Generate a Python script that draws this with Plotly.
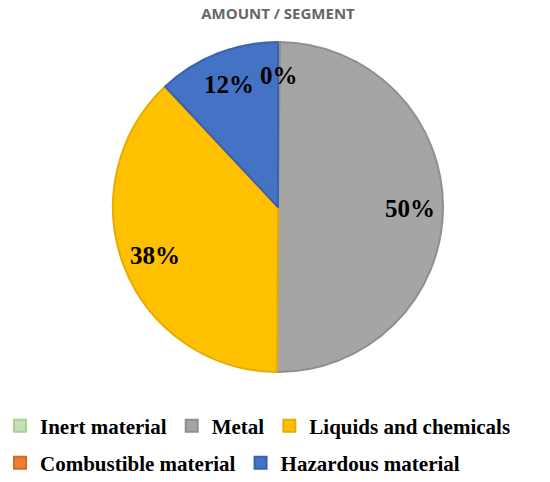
import math
import plotly.graph_objects as go

# data
segments = ["Inert material", "Metal", "Liquids and chemicals", "Combustible material", "Hazardous material"]
amounts = [0.2, 50, 38, 0, 12]
colors = ["#C5E0B4", "#A5A5A5", "#FFC000", "#ED7D31", "#4472C4"]
edges = ["#A9D18E", "#8F8F8F", "#E6AC00", "#D46A20", "#3A63AD"]
legend_rows = [1, 1, 1, 2, 2]

W, H = 550, 482
cx, cy, r = 278, 207, 165

label_font = dict(family="Liberation Serif", size=25, color="black", weight="bold")

fig = go.Figure()
fig.add_trace(go.Pie(
    labels=segments, values=amounts,
    sort=False, direction="clockwise", rotation=0,
    marker=dict(colors=colors, line=dict(color=edges, width=2)),
    textinfo="none", hoverinfo="label+percent", showlegend=False,
    domain=dict(x=[(cx - r) / W, (cx + r) / W], y=[1 - (cy + r) / H, 1 - (cy - r) / H]),
))

# Excel-like percentage labels, placed at 80% of the radius on each slice's mid angle
total = sum(amounts)
start = 0.0
for seg, a in zip(segments, amounts):
    if a <= 0:
        continue
    frac = a / total
    mid = (start + frac / 2) * 2 * math.pi
    start += frac
    px_ = cx + 0.80 * r * math.sin(mid)
    py_ = cy - 0.80 * r * math.cos(mid)
    fig.add_annotation(x=px_ / W, y=1 - py_ / H, xref="paper", yref="paper",
                       xanchor="center", yanchor="middle",
                       text=f"{round(frac * 100)}%", showarrow=False, font=label_font)

# legend entries (two rows that flow like the original)
for seg, c, e, row in zip(segments, colors, edges, legend_rows):
    fig.add_trace(go.Scatter(
        x=[None], y=[None], mode="markers", name=seg,
        marker=dict(symbol="square", size=16, color=c, line=dict(color=e, width=1)),
        legend="legend" if row == 1 else "legend2",
    ))

leg = dict(orientation="h", x=0, xanchor="left", yanchor="middle",
           font=dict(family="Liberation Serif", size=21, color="black", weight="bold"),
           itemsizing="constant", traceorder="normal", bgcolor="rgba(0,0,0,0)")

fig.update_layout(
    width=W, height=H,
    margin=dict(l=0, r=0, t=0, b=0, autoexpand=False),
    paper_bgcolor="white", plot_bgcolor="white",
    xaxis=dict(visible=False), yaxis=dict(visible=False),
    title=dict(text="AMOUNT / SEGMENT", x=cx / W, xanchor="center", y=1 - 14 / H, yanchor="middle",
               font=dict(family="Open Sans", size=15, color="#666666", weight="bold")),
    legend=dict(leg, y=1 - 426 / H),
    legend2=dict(leg, y=1 - 463 / H),
)

fig.write_html("out.html", config={"displayModeBar": False},
               post_script="document.body.style.margin='0';")
